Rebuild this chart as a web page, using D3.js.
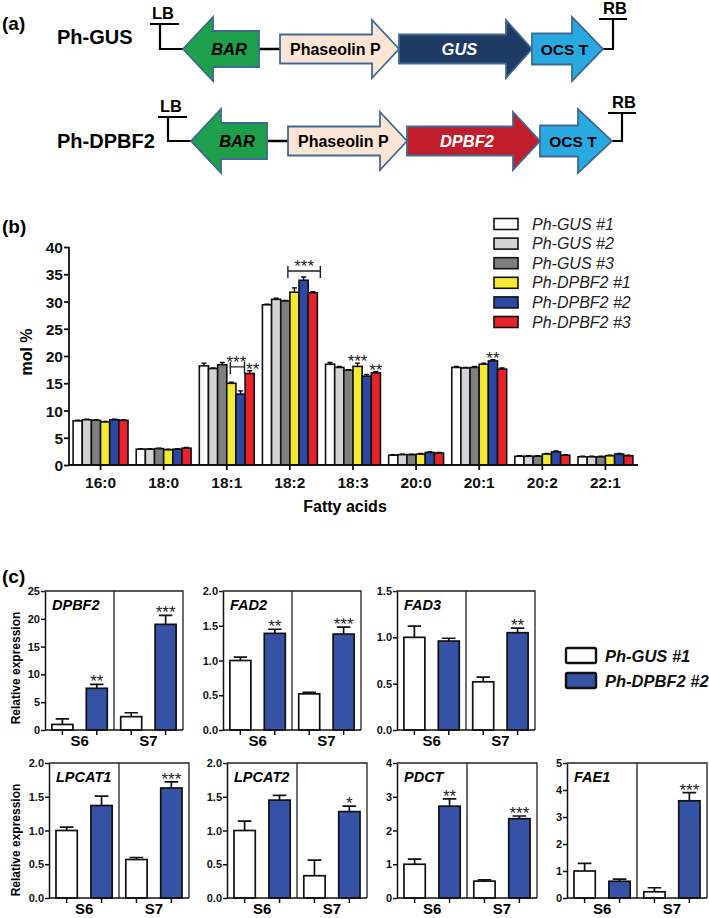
<!DOCTYPE html>
<html><head><meta charset="utf-8">
<script src="https://cdn.jsdelivr.net/npm/d3@7"></script>
<style>
body{margin:0;background:#fff;}
svg{display:block;font-family:"Liberation Sans",Arial,Helvetica,sans-serif;}
</style>
</head><body>
<svg id="fig" width="709" height="918"></svg>
<script>
// ---------------- DATA ----------------
// (a) constructs
const constructNames = ["Ph-GUS", "Ph-DPBF2"];
const constructParts = [["BAR", "Phaseolin P", "GUS", "OCS T"], ["BAR", "Phaseolin P", "DPBF2", "OCS T"]];

// (b) fatty acid composition (mol %)
const fattyAcids = ["16:0", "18:0", "18:1", "18:2", "18:3", "20:0", "20:1", "20:2", "22:1"];
const lineNames = ["Ph-GUS #1", "Ph-GUS #2", "Ph-GUS #3", "Ph-DPBF2 #1", "Ph-DPBF2 #2", "Ph-DPBF2 #3"];
const gus1  = [8.1, 2.9, 18.2, 29.4, 18.5, 1.8, 17.9, 1.6, 1.5];
const gus2  = [8.3, 2.9, 17.7, 30.4, 17.9, 1.9, 17.8, 1.6, 1.5];
const gus3  = [8.2, 3.0, 18.4, 30.1, 17.4, 1.9, 17.9, 1.6, 1.5];
const dpbf1 = [7.9, 2.8, 15.0, 31.7, 18.1, 2.0, 18.5, 2.0, 1.7];
const dpbf2 = [8.3, 2.9, 13.0, 33.9, 16.3, 2.3, 19.1, 2.4, 2.0];
const dpbf3 = [8.2, 3.1, 16.8, 31.6, 16.9, 2.2, 17.6, 1.8, 1.7];
const gus1Err  = [0.1, 0.1, 0.5, 0.1, 0.3, 0.1, 0.2, 0.1, 0.1];
const gus2Err  = [0.1, 0.1, 0.1, 0.2, 0.2, 0.1, 0.1, 0.1, 0.1];
const gus3Err  = [0.1, 0.1, 0.4, 0.1, 0.1, 0.1, 0.2, 0.1, 0.1];
const dpbf1Err = [0.1, 0.1, 0.2, 0.8, 0.6, 0.1, 0.2, 0.1, 0.1];
const dpbf2Err = [0.1, 0.1, 0.6, 0.6, 0.3, 0.1, 0.2, 0.2, 0.1];
const dpbf3Err = [0.1, 0.1, 0.5, 0.2, 0.2, 0.1, 0.2, 0.1, 0.1];
const molTicks = [0, 5, 10, 15, 20, 25, 30, 35, 40];
const sigBrackets = [
  {fa: "18:1", from: 3, to: 4, level: 18.0, label: "***"},
  {fa: "18:2", from: 3, to: 5, level: 35.6, label: "***"}
];
const sigStars = [
  {fa: "18:1", line: 5, label: "**"},
  {fa: "18:3", line: 3, label: "***"},
  {fa: "18:3", line: 5, label: "**"},
  {fa: "20:1", line: 4, label: "**"}
];

// (c) relative expression
const stages = ["S6", "S7"];
const genes = ["DPBF2", "FAD2", "FAD3", "LPCAT1", "LPCAT2", "PDCT", "FAE1"];
const exprGUS_S6   = [1.0, 1.0, 1.0, 1.0, 1.0, 1.0, 1.0];
const exprGUS_S7   = [2.4, 0.52, 0.52, 0.57, 0.33, 0.50, 0.23];
const exprDPBF_S6  = [7.5, 1.39, 0.96, 1.37, 1.45, 2.72, 0.62];
const exprDPBF_S7  = [19.0, 1.38, 1.05, 1.63, 1.28, 2.35, 3.60];
const errGUS_S6    = [1.0, 0.05, 0.12, 0.05, 0.14, 0.15, 0.28];
const errGUS_S7    = [0.7, 0.02, 0.05, 0.03, 0.23, 0.04, 0.15];
const errDPBF_S6   = [0.7, 0.06, 0.03, 0.14, 0.07, 0.22, 0.08];
const errDPBF_S7   = [1.6, 0.10, 0.05, 0.09, 0.08, 0.08, 0.30];
const starsDPBF_S6 = ["**", "**", "", "", "", "**", ""];
const starsDPBF_S7 = ["***", "***", "**", "***", "*", "***", "***"];
const yMaxes = [25, 2.0, 1.5, 2.0, 2.0, 4, 5];
const yStepsC = [5, 0.5, 0.5, 0.5, 0.5, 1, 1];
const exprLegend = ["Ph-GUS #1", "Ph-DPBF2 #2"];

// ---------------- STYLE / LAYOUT ----------------
const svg = d3.select("#fig");
const lineColors = ["#ffffff", "#d3d3d3", "#7f7f7f", "#f4ea33", "#2c47a4", "#e9212b"];
const cBlue = "#3652a4";

// panel labels
[["(a)", 30], ["(b)", 233], ["(c)", 583]].forEach(([t, y]) => {
  svg.append("text").attr("x", 2).attr("y", y).attr("font-size", 19).attr("font-weight", "bold").text(t);
});

// ---------------- (a) ----------------
function arrowPath(x0, xb, xt, yc, bh, hh) {
  return `M${x0},${yc - bh}L${xb},${yc - bh}L${xb},${yc - hh}L${xt},${yc}L${xb},${yc + hh}L${xb},${yc + bh}L${x0},${yc + bh}Z`;
}
const rowsA = [
  {yc: 49, labelY: 44, lb: 150, bar: [259, 213, 183], ph: [280, 372, 399], gene: [399, 506, 532], ocs: [532, 572, 603], rbTop: 19, lbTop: 24},
  {yc: 141, labelY: 148, lb: 158, bar: [267, 221, 191], ph: [288, 380, 407], gene: [407, 513, 540], ocs: [540, 578, 612], rbTop: 113, lbTop: 117}
];
const partFill = ["#1e9f4b", "#fce5d5", null, "#2aa9e1"];
const geneFill = ["#1f3a63", "#bf1e2a"];
const gA = svg.append("g");
rowsA.forEach((r, i) => {
  gA.append("text").attr("x", 57).attr("y", r.labelY).attr("font-size", 20).attr("font-weight", "bold").text(constructNames[i]);
  // LB bracket
  const lbx = r.lb + 10;
  gA.append("path").attr("d", `M${r.lb},${r.lbTop}H${r.lb + 29}M${lbx},${r.lbTop}V${r.yc}H${r.bar[2]}`)
    .attr("fill", "none").attr("stroke", "#000").attr("stroke-width", 2.2);
  gA.append("text").attr("x", r.lb + 2).attr("y", r.lbTop - 5).attr("font-size", 16.5).attr("font-weight", "bold").text("LB");
  // connector BAR - promoter
  gA.append("line").attr("x1", r.bar[0]).attr("x2", r.ph[0]).attr("y1", r.yc).attr("y2", r.yc).attr("stroke", "#000").attr("stroke-width", 2.5);
  // RB bracket
  const rbx = r.ocs[2] + 10;
  gA.append("path").attr("d", `M${r.ocs[2]},${r.yc}H${rbx}V${r.rbTop}M${rbx - 14},${r.rbTop}H${rbx + 14}`)
    .attr("fill", "none").attr("stroke", "#000").attr("stroke-width", 2.2);
  gA.append("text").attr("x", rbx - 10).attr("y", r.rbTop - 5).attr("font-size", 16.5).attr("font-weight", "bold").text("RB");
  // parts
  const geoms = [[r.bar, 18, 32], [r.ph, 14.5, 29], [r.gene, 14.5, 29], [r.ocs, 15.5, 32]];
  geoms.forEach(([p, bh, hh], k) => {
    gA.append("path").attr("d", arrowPath(p[0], p[1], p[2], r.yc, bh, hh))
      .attr("fill", k === 2 ? geneFill[i] : partFill[k]).attr("stroke", "#3f6a95").attr("stroke-width", 1.8);
  });
  const name = constructParts[i];
  gA.append("text").attr("x", (r.bar[1] + r.bar[0]) / 2 - 7).attr("y", r.yc + 6).attr("text-anchor", "middle")
    .attr("font-size", 16.5).attr("font-weight", "bold").attr("font-style", "italic").text(name[0]);
  gA.append("text").attr("x", r.ph[0] + 10).attr("y", r.yc + 5.5)
    .attr("font-size", 16).attr("font-weight", "bold").text(name[1]);
  gA.append("text").attr("x", (r.gene[0] + r.gene[1]) / 2 + 7).attr("y", r.yc + 5.5).attr("text-anchor", "middle")
    .attr("font-size", 16.5).attr("font-weight", "bold").attr("font-style", "italic").attr("fill", "#fff").text(name[2]);
  gA.append("text").attr("x", (r.ocs[0] + r.ocs[2]) / 2 - 3).attr("y", r.yc + 5.5).attr("text-anchor", "middle")
    .attr("font-size", 15.5).attr("font-weight", "bold").text(name[3]);
});

// ---------------- (b) ----------------
const seriesVals = [gus1, gus2, gus3, dpbf1, dpbf2, dpbf3];
const seriesErr = [gus1Err, gus2Err, gus3Err, dpbf1Err, dpbf2Err, dpbf3Err];
const xB = d3.scaleBand().domain(fattyAcids).range([69, 637]).paddingInner(0.13).paddingOuter(0.065);
const xS = d3.scaleBand().domain(d3.range(lineNames.length)).range([0, xB.bandwidth()]);
const yB = d3.scaleLinear().domain([0, 40]).range([465, 247]);
const gB = svg.append("g");

const barsB = [];
fattyAcids.forEach((fa, i) => seriesVals.forEach((s, j) => barsB.push({fa, j, v: s[i], e: seriesErr[j][i]})));
// error bars (upper)
gB.selectAll(".errB").data(barsB).join("path")
  .attr("d", d => {
    const cx = xB(d.fa) + xS(d.j) + xS.bandwidth() / 2;
    return `M${cx},${yB(d.v)}V${yB(d.v + d.e)}M${cx - 2.5},${yB(d.v + d.e)}H${cx + 2.5}`;
  })
  .attr("stroke", "#000").attr("stroke-width", 1.4).attr("fill", "none");
gB.selectAll(".barB").data(barsB).join("rect")
  .attr("x", d => xB(d.fa) + xS(d.j))
  .attr("y", d => yB(d.v))
  .attr("width", xS.bandwidth())
  .attr("height", d => yB(0) - yB(d.v))
  .attr("fill", d => lineColors[d.j]).attr("stroke", "#111").attr("stroke-width", 1.6);

// axes
const axL = gB.append("g").attr("transform", "translate(69,0)")
  .call(d3.axisLeft(yB).tickValues(molTicks).tickSize(5).tickSizeOuter(0));
const axBt = gB.append("g").attr("transform", "translate(0,465)")
  .call(d3.axisBottom(xB).tickSize(5).tickSizeOuter(0));
[axL, axBt].forEach(a => {
  a.selectAll("path,line").attr("stroke", "#111").attr("stroke-width", 1.8);
  a.selectAll("text").attr("font-size", 15.5).attr("font-weight", "bold").attr("fill", "#111")
    .attr("font-family", "Liberation Sans, Arial, sans-serif");
});
axL.select(".domain").attr("d", "M0,465V247");
axBt.select(".domain").attr("d", "M69,0H638");
axL.selectAll("text").attr("x", -6).attr("dy", "0.36em");
axBt.selectAll("text").attr("y", 9).attr("dy", "0.9em");

gB.append("text").attr("transform", "translate(32,352) rotate(-90)").attr("text-anchor", "middle")
  .attr("font-size", 16).attr("font-weight", "bold").text("mol %");
gB.append("text").attr("x", 345).attr("y", 512).attr("text-anchor", "middle")
  .attr("font-size", 16).attr("font-weight", "bold").text("Fatty acids");

// significance
const cxB = (fa, j) => xB(fa) + xS(j) + xS.bandwidth() / 2;
sigBrackets.forEach(b => {
  const wide = b.to - b.from > 1;
  const x1 = wide ? xB(b.fa) + xS(b.from) - 2 : cxB(b.fa, b.from) - 1;
  const x2 = wide ? xB(b.fa) + xS(b.to) + xS.bandwidth() + 3 : cxB(b.fa, b.to) + 4;
  const y = yB(b.level);
  gB.append("path").attr("d", `M${x1},${y - 5}V${y + 7}M${x1},${y}H${x2}M${x2},${y - 5}V${y + 7}`)
    .attr("stroke", "#222").attr("stroke-width", 1.4).attr("fill", "none");
  gB.append("text").attr("x", wide ? (x1 + x2) / 2 : x1 + 6).attr("y", y + 1).attr("text-anchor", "middle")
    .attr("font-size", 17).attr("fill", "#222").text(b.label);
});
sigStars.forEach(s => {
  const i = fattyAcids.indexOf(s.fa);
  const top = seriesVals[s.line][i] + seriesErr[s.line][i];
  const shift = s.fa === "18:1" ? 3 : 0;
  gB.append("text").attr("x", cxB(s.fa, s.line) + shift).attr("y", yB(top) + 4).attr("text-anchor", "middle")
    .attr("font-size", 17).attr("fill", "#222").text(s.label);
});

// legend (b)
const legB = svg.append("g");
lineNames.forEach((n, j) => {
  const y = 224 + j * 19.6;
  legB.append("rect").attr("x", 494).attr("y", y - 5.5).attr("width", 24).attr("height", 11)
    .attr("fill", lineColors[j]).attr("stroke", "#111").attr("stroke-width", 1.6);
  legB.append("text").attr("x", 532).attr("y", y + 5.5).attr("font-size", 16).attr("font-style", "italic")
    .attr("fill", "#222").text(n);
});

// ---------------- (c) ----------------
const panelsC = [
  {x: 45, w: 138, y0: 730, y1: 591}, {x: 223, w: 138, y0: 730, y1: 591}, {x: 397, w: 138, y0: 730, y1: 591},
  {x: 49, w: 140, y0: 898, y1: 763}, {x: 227, w: 140, y0: 898, y1: 763}, {x: 397, w: 140, y0: 898, y1: 763},
  {x: 567, w: 140, y0: 898, y1: 763}
];
const barKeys = ["S6-GUS", "S6-DPBF", "S7-GUS", "S7-DPBF"];
genes.forEach((gname, gi) => {
  const p = panelsC[gi];
  const g = svg.append("g");
  const x = d3.scaleBand().domain(barKeys).range([p.x, p.x + p.w]).paddingInner(0.39).paddingOuter(0.2);
  const y = d3.scaleLinear().domain([0, yMaxes[gi]]).range([p.y0, p.y1]);
  const bars = [
    {k: "S6-GUS", v: exprGUS_S6[gi], e: errGUS_S6[gi], c: "#fff", s: ""},
    {k: "S6-DPBF", v: exprDPBF_S6[gi], e: errDPBF_S6[gi], c: cBlue, s: starsDPBF_S6[gi]},
    {k: "S7-GUS", v: exprGUS_S7[gi], e: errGUS_S7[gi], c: "#fff", s: ""},
    {k: "S7-DPBF", v: exprDPBF_S7[gi], e: errDPBF_S7[gi], c: cBlue, s: starsDPBF_S7[gi]}
  ];
  const bw = x.bandwidth();
  g.selectAll(".eb").data(bars).join("path")
    .attr("d", d => {
      const cx = x(d.k) + bw / 2, yt = y(d.v + d.e);
      return `M${cx},${y(d.v)}V${yt}M${cx - bw * 0.32},${yt}H${cx + bw * 0.32}`;
    })
    .attr("stroke", "#111").attr("stroke-width", 1.7).attr("fill", "none");
  g.selectAll(".b").data(bars).join("rect")
    .attr("x", d => x(d.k)).attr("y", d => y(d.v)).attr("width", bw).attr("height", d => y(0) - y(d.v))
    .attr("fill", d => d.c).attr("stroke", "#111").attr("stroke-width", 1.7);
  g.selectAll(".st").data(bars.filter(d => d.s)).join("text")
    .attr("x", d => x(d.k) + bw / 2).attr("y", d => y(d.v + d.e) + 3).attr("text-anchor", "middle")
    .attr("font-size", 17).attr("fill", "#222").text(d => d.s);
  // frame + divider
  g.append("path").attr("d", `M${p.x},${p.y1}H${p.x + p.w}V${p.y0}M${p.x + p.w / 2},${p.y1}V${p.y0}`)
    .attr("stroke", "#222").attr("stroke-width", 1.3).attr("fill", "none");
  // y axis
  const fmt = yStepsC[gi] < 1 ? d3.format(".1f") : d3.format("d");
  const ay = g.append("g").attr("transform", `translate(${p.x},0)`)
    .call(d3.axisLeft(y).tickValues(d3.range(0, yMaxes[gi] + 1e-9, yStepsC[gi])).tickFormat(fmt).tickSize(4).tickSizeOuter(0));
  ay.selectAll("path,line").attr("stroke", "#111").attr("stroke-width", 1.5);
  ay.selectAll("text").attr("x", -5).attr("font-size", 11).attr("font-weight", "bold").attr("fill", "#111")
    .attr("font-family", "Liberation Sans, Arial, sans-serif");
  // x axis
  g.append("line").attr("x1", p.x).attr("x2", p.x + p.w).attr("y1", p.y0).attr("y2", p.y0).attr("stroke", "#111").attr("stroke-width", 1.6);
  g.selectAll(".xt").data(barKeys).join("line")
    .attr("x1", d => x(d) + bw / 2).attr("x2", d => x(d) + bw / 2).attr("y1", p.y0).attr("y2", p.y0 + 5)
    .attr("stroke", "#111").attr("stroke-width", 1.5);
  stages.forEach((s, si) => {
    const cx = (x(barKeys[si * 2]) + x(barKeys[si * 2 + 1]) + bw) / 2;
    g.append("text").attr("x", cx).attr("y", p.y0 + 16).attr("text-anchor", "middle")
      .attr("font-size", 15).attr("font-weight", "bold").text(s);
  });
  g.append("text").attr("x", p.x + 7).attr("y", p.y1 + 19).attr("font-size", 14.5).attr("font-weight", "bold")
    .attr("font-style", "italic").text(gname);
});
[668, 840].forEach(yc => {
  svg.append("text").attr("transform", `translate(20,${yc}) rotate(-90)`).attr("text-anchor", "middle")
    .attr("font-size", 12).attr("font-weight", "bold").text("Relative expression");
});
// legend (c)
exprLegend.forEach((n, k) => {
  const y = 648 + k * 25;
  svg.append("rect").attr("x", 566).attr("y", y).attr("width", 30).attr("height", 15).attr("rx", 1.5)
    .attr("fill", k === 0 ? "#fff" : cBlue).attr("stroke", "#111").attr("stroke-width", 2.4);
  svg.append("text").attr("x", 605).attr("y", y + 14).attr("font-size", 16.5).attr("font-weight", "bold")
    .attr("font-style", "italic").attr("fill", "#111").text(n);
});
</script>
</body></html>
